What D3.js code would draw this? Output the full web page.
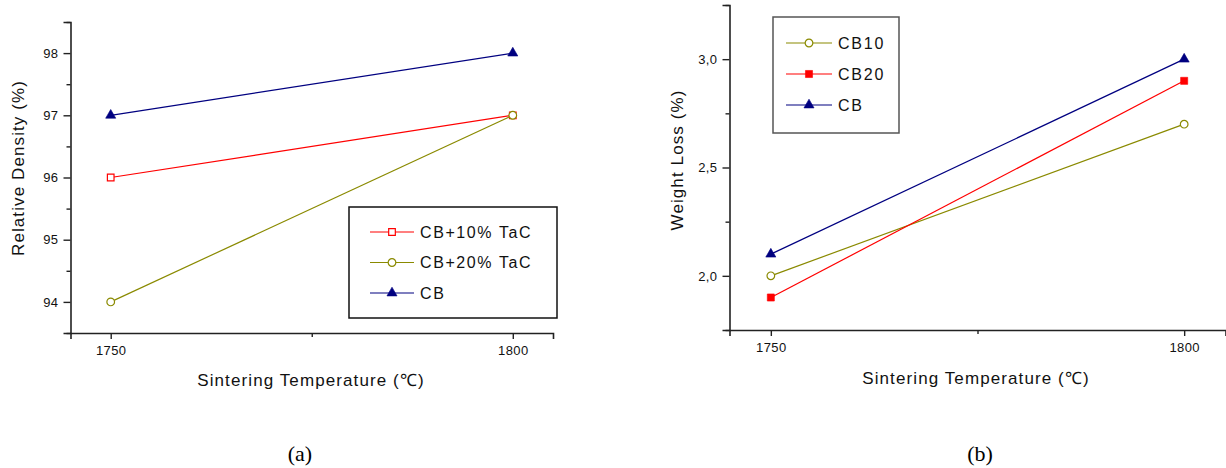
<!DOCTYPE html>
<html>
<head>
<meta charset="utf-8">
<script src="https://cdn.jsdelivr.net/npm/d3@7"></script>
<style>
  html, body { margin: 0; padding: 0; background: #fff; }
  svg { display: block; }
  text { font-family: "Liberation Sans", Arial, Helvetica, sans-serif; fill: #111; }
  text.caption { font-family: "Liberation Serif", "Times New Roman", serif; fill: #000; }
</style>
</head>
<body>
<svg id="chart" width="1226" height="468"></svg>
<script>
// ---- data ----
const temps = [1750, 1800];
const tempTicks = [1750, 1800];
const tempMinor = [1775];

// panel (a): relative density (%)
const densSeriesNames = ["CB+10% TaC", "CB+20% TaC", "CB"];
const densCB10 = [96, 97];
const densCB20 = [94, 97];
const densCB = [97, 98];
const densTicks = [94, 95, 96, 97, 98];
const densMinor = [93.5, 94.5, 95.5, 96.5, 97.5, 98.5];

// panel (b): weight loss (%)
const lossSeriesNames = ["CB10", "CB20", "CB"];
const lossCB10 = [2.0, 2.7];
const lossCB20 = [1.9, 2.9];
const lossCB = [2.1, 3.0];
const lossTicks = [2.0, 2.5, 3.0];
const lossTickLabels = ["2,0", "2,5", "3,0"];
const lossMinor = [1.75, 2.25, 2.75, 3.25];

const xTitle = "Sintering Temperature (\u2103)";

// ---- styles ----
const RED = "#ff0000", OLIVE = "#8a8a00", NAVY = "#000080";

const svg = d3.select("#chart");
svg.append("rect").attr("width", 1226).attr("height", 468).attr("fill", "#fff");

function markerPath(type, size) {
  return d3.symbol().type(type).size(size)();
}

function drawPanel(cfg) {
  const g = svg.append("g");
  const x = d3.scaleLinear().domain([1745, 1805]).range(cfg.xRange);
  const y = d3.scaleLinear().domain(cfg.yDomain).range(cfg.yRange);

  // y axis (major)
  const yAx = g.append("g").attr("transform", `translate(${cfg.xRange[0]},0)`)
    .call(d3.axisLeft(y).tickValues(cfg.yTicks).tickSize(7).tickPadding(5)
      .tickFormat((d, i) => cfg.yLabels ? cfg.yLabels[i] : String(d)));
  // y axis minor
  const yMin = g.append("g").attr("transform", `translate(${cfg.xRange[0]},0)`)
    .call(d3.axisLeft(y).tickValues(cfg.yMinor).tickSize(4).tickFormat(""));
  // x axis
  const xAx = g.append("g").attr("transform", `translate(0,${cfg.yRange[0]})`)
    .call(d3.axisBottom(x).tickValues(tempTicks).tickSize(6).tickPadding(7)
      .tickFormat(d3.format("d")));
  const xMin = g.append("g").attr("transform", `translate(0,${cfg.yRange[0]})`)
    .call(d3.axisBottom(x).tickValues(tempMinor).tickSize(4).tickFormat(""));

  [yAx, yMin, xAx, xMin].forEach(a => {
    a.select(".domain").attr("stroke", "#222").attr("stroke-width", 1.6);
    a.selectAll(".tick line").attr("stroke", "#222").attr("stroke-width", 1.4);
    a.selectAll(".tick text").attr("font-size", 13).attr("fill", "#111")
      .style("letter-spacing", "0.4px");
  });
  yMin.select(".domain").remove();
  xMin.select(".domain").remove();

  // series
  const line = d3.line().x((d, i) => x(temps[i])).y(d => y(d));
  cfg.series.forEach(s => {
    g.append("path").datum(s.values).attr("d", line)
      .attr("fill", "none").attr("stroke", s.color).attr("stroke-width", 1.2);
  });
  cfg.series.forEach(s => {
    g.selectAll(null).data(s.values).enter().append("path")
      .attr("d", markerPath(s.shape, s.size))
      .attr("transform", (d, i) => `translate(${x(temps[i])},${y(d)})`)
      .attr("fill", s.filled ? s.color : "#fff")
      .attr("stroke", s.color).attr("stroke-width", s.filled ? 0.6 : 1.2);
  });

  // axis titles
  g.append("text").attr("x", cfg.xTitlePos[0]).attr("y", cfg.xTitlePos[1])
    .attr("text-anchor", "middle").attr("dominant-baseline", "central")
    .attr("font-size", 17).style("letter-spacing", "1.1px").text(xTitle);
  g.append("text")
    .attr("transform", `translate(${cfg.yTitlePos[0]},${cfg.yTitlePos[1]}) rotate(-90)`)
    .attr("text-anchor", "middle").attr("dominant-baseline", "central")
    .attr("font-size", 17).style("letter-spacing", "1.1px").text(cfg.yTitle);

  // legend
  const L = cfg.legend;
  g.append("rect").attr("x", L.x).attr("y", L.y).attr("width", L.w).attr("height", L.h)
    .attr("fill", "#fff").attr("stroke", L.stroke).attr("stroke-width", 1.5);
  cfg.series.forEach((s, i) => {
    const cy = L.rows[i];
    g.append("line").attr("x1", L.lineX[0]).attr("x2", L.lineX[1])
      .attr("y1", cy).attr("y2", cy).attr("stroke", s.color).attr("stroke-width", 1.2);
    g.append("path").attr("d", markerPath(s.shape, s.size))
      .attr("transform", `translate(${L.markX},${cy})`)
      .attr("fill", s.filled ? s.color : "#fff")
      .attr("stroke", s.color).attr("stroke-width", s.filled ? 0.6 : 1.2);
    g.append("text").attr("x", L.textX).attr("y", cy).attr("dominant-baseline", "central")
      .attr("font-size", 16).style("letter-spacing", L.spacing).text(s.name);
  });

  // caption
  svg.append("text").attr("class", "caption")
    .attr("x", cfg.caption[0]).attr("y", cfg.caption[1])
    .attr("text-anchor", "middle").attr("dominant-baseline", "central")
    .attr("font-size", 22).text(cfg.captionText);
}

drawPanel({
  xRange: [70.5, 553],
  yDomain: [93.5, 98.5], yRange: [333, 22],
  yTicks: densTicks, yMinor: densMinor,
  yTitle: "Relative Density (%)",
  xTitlePos: [311, 380], yTitlePos: [18, 168],
  series: [
    { name: densSeriesNames[0], values: densCB10, color: RED, shape: d3.symbolSquare, size: 44, filled: false },
    { name: densSeriesNames[1], values: densCB20, color: OLIVE, shape: d3.symbolCircle, size: 46, filled: false },
    { name: densSeriesNames[2], values: densCB, color: NAVY, shape: d3.symbolTriangle, size: 44, filled: true }
  ],
  legend: { x: 349, y: 207, w: 208, h: 111, stroke: "#111", rows: [232, 262.5, 293],
            lineX: [370, 414], markX: 392, textX: 420, spacing: "1.6px" },
  caption: [300, 453], captionText: "(a)"
});

drawPanel({
  xRange: [729.5, 1225.5],
  yDomain: [1.75, 3.25], yRange: [330, 5],
  yTicks: lossTicks, yLabels: lossTickLabels, yMinor: lossMinor,
  yTitle: "Weight Loss (%)",
  xTitlePos: [976, 378], yTitlePos: [677, 160],
  series: [
    { name: lossSeriesNames[0], values: lossCB10, color: OLIVE, shape: d3.symbolCircle, size: 46, filled: false },
    { name: lossSeriesNames[1], values: lossCB20, color: RED, shape: d3.symbolSquare, size: 50, filled: true },
    { name: lossSeriesNames[2], values: lossCB, color: NAVY, shape: d3.symbolTriangle, size: 44, filled: true }
  ],
  legend: { x: 773, y: 17, w: 126, h: 116, stroke: "#555", rows: [43, 74, 105],
            lineX: [786, 832], markX: 809, textX: 838, spacing: "1.8px" },
  caption: [980, 453], captionText: "(b)"
});
</script>
</body>
</html>
